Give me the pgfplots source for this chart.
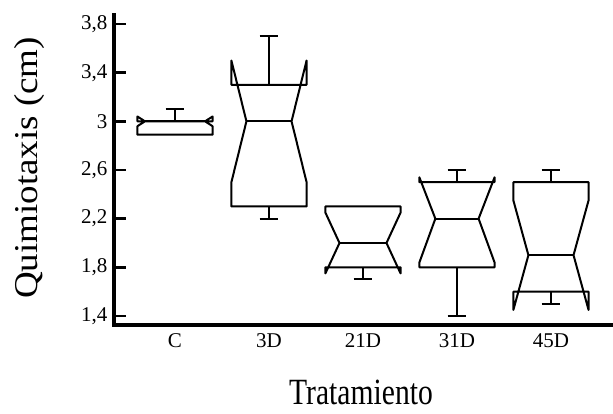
\documentclass[border=0pt]{standalone}
\usepackage{fontspec}
\setmainfont{Liberation Serif}
\usepackage{pgfplots}
\pgfplotsset{compat=1.18}
\pgfplotsset{bx/.style={black, line width=2pt, no markers, line join=round, line cap=butt}}
\begin{document}
\begin{tikzpicture}
\begin{axis}[
  scale only axis, width=499pt, height=310pt,
  xmin=-0.649, xmax=4.66, ymin=1.326, ymax=3.874,
  axis x line*=bottom, axis y line*=left,
  axis line style={line width=3.2pt, line cap=rect},
  xtick={0,1,2,3,4}, xticklabels={C,3D,21D,31D,45D},
  ytick={1.4,1.8,2.2,2.6,3.0,3.4,3.8},
  tick align=inside, major tick length=12pt,
  ytick style={line width=2.4pt, black},
  xtick style={draw=none},
  /pgf/number format/use comma,
  /pgf/number format/assume math mode=true,
  yticklabel style={font=\fontsize{21}{21}\selectfont, xshift=-3pt},
  xticklabel style={font=\fontsize{21}{21}\selectfont, yshift=-5pt},
  xlabel={\scalebox{0.8}[1]{Tratamiento}},
  xlabel style={font=\fontsize{37}{37}\selectfont, inner sep=0pt, at={(axis description cs:0.495,-0.256)}, anchor=base},
  ylabel={\scalebox{1}[0.9]{Quimiotaxis (cm)}},
  ylabel style={font=\fontsize{37}{37}\selectfont, at={(axis description cs:-0.1703,0.5065)}, anchor=center},
  clip=false,
]
\coordinate (o) at (rel axis cs:0,0);
% C
\addplot[bx] coordinates {(-0.4,2.89) (-0.4,2.96) (-0.32,3.0) (-0.4,3.04) (-0.4,3.0) (0.4,3.0) (0.4,3.04) (0.32,3.0) (0.4,2.96) (0.4,2.89)} --cycle;
\addplot[bx] coordinates {(-0.32,3.0) (0.32,3.0)};
\addplot[bx] coordinates {(0,3.0) (0,3.1)};
\addplot[bx] coordinates {(-0.1,3.1) (0.1,3.1)};
% 3D
\addplot[bx] coordinates {(0.6,2.3) (0.6,2.5) (0.76,3.0) (0.6,3.5) (0.6,3.3) (1.4,3.3) (1.4,3.5) (1.24,3.0) (1.4,2.5) (1.4,2.3)} --cycle;
\addplot[bx] coordinates {(0.76,3.0) (1.24,3.0)};
\addplot[bx] coordinates {(1,3.3) (1,3.7)};
\addplot[bx] coordinates {(0.9,3.7) (1.1,3.7)};
\addplot[bx] coordinates {(1,2.3) (1,2.2)};
\addplot[bx] coordinates {(0.9,2.2) (1.1,2.2)};
% 21D
\addplot[bx] coordinates {(1.6,1.8) (1.6,1.75) (1.75,2.0) (1.6,2.25) (1.6,2.3) (2.4,2.3) (2.4,2.25) (2.25,2.0) (2.4,1.75) (2.4,1.8)} --cycle;
\addplot[bx] coordinates {(1.75,2.0) (2.25,2.0)};
\addplot[bx] coordinates {(2,1.8) (2,1.7)};
\addplot[bx] coordinates {(1.9,1.7) (2.1,1.7)};
% 31D
\addplot[bx] coordinates {(2.6,1.8) (2.6,1.84) (2.77,2.2) (2.6,2.54) (2.6,2.5) (3.4,2.5) (3.4,2.54) (3.23,2.2) (3.4,1.84) (3.4,1.8)} --cycle;
\addplot[bx] coordinates {(2.77,2.2) (3.23,2.2)};
\addplot[bx] coordinates {(3,2.5) (3,2.6)};
\addplot[bx] coordinates {(2.9,2.6) (3.1,2.6)};
\addplot[bx] coordinates {(3,1.8) (3,1.4)};
\addplot[bx] coordinates {(2.9,1.4) (3.1,1.4)};
% 45D
\addplot[bx] coordinates {(3.6,1.6) (3.6,1.45) (3.76,1.9) (3.6,2.35) (3.6,2.5) (4.4,2.5) (4.4,2.35) (4.24,1.9) (4.4,1.45) (4.4,1.6)} --cycle;
\addplot[bx] coordinates {(3.76,1.9) (4.24,1.9)};
\addplot[bx] coordinates {(4,2.5) (4,2.6)};
\addplot[bx] coordinates {(3.9,2.6) (4.1,2.6)};
\addplot[bx] coordinates {(4,1.6) (4,1.5)};
\addplot[bx] coordinates {(3.9,1.5) (4.1,1.5)};
\end{axis}
\pgfresetboundingbox
\path (o) ++(-114pt,-89pt) rectangle ++(613pt,414pt);
\end{tikzpicture}
\end{document}
